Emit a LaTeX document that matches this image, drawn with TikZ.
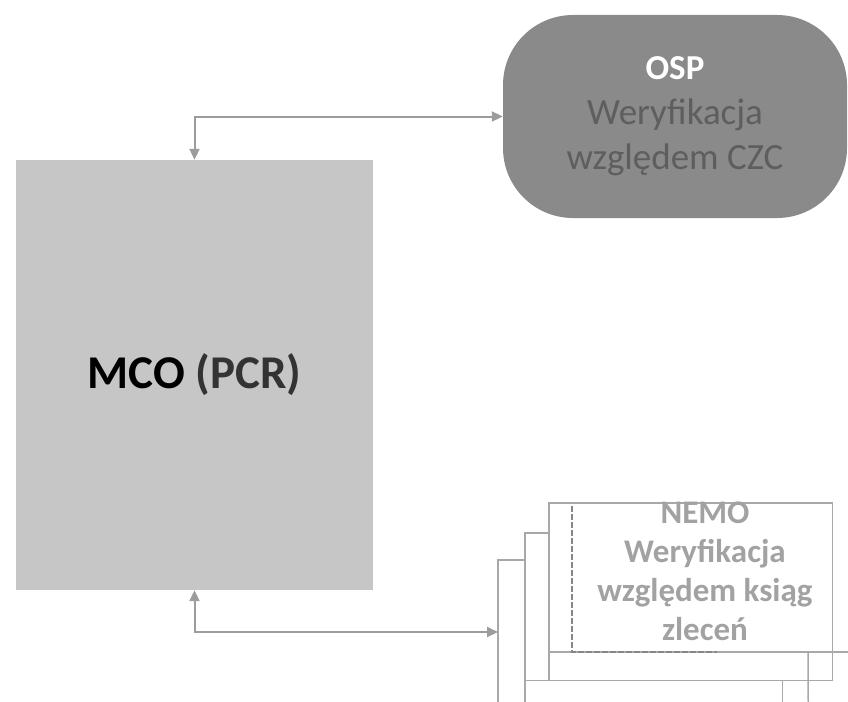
\documentclass[tikz,border=0pt]{standalone}
\usepackage{fontspec}
\setmainfont{Carlito}
\usetikzlibrary{arrows.meta}
\definecolor{mcofill}{HTML}{C6C6C6}
\definecolor{ospfill}{HTML}{8A8A8A}
\definecolor{osptext}{HTML}{5E5E5E}
\definecolor{conncol}{HTML}{9C9C9C}
\definecolor{stackcol}{HTML}{A8A8A8}
\definecolor{nemotext}{HTML}{A2A2A2}
\definecolor{pcrcol}{HTML}{333333}
\tikzset{
  conn/.style={draw=conncol, line width=2pt, {Triangle[length=11pt,width=10pt]}-{Triangle[length=11pt,width=10pt]}},
  mcobox/.style={draw=none, fill=mcofill, minimum width=357pt, minimum height=430pt, inner sep=0pt},
  ospbox/.style={draw=none, fill=ospfill, rounded corners=70pt, minimum width=344pt, minimum height=203pt, inner sep=0pt, align=center, text=osptext, font=\fontsize{37pt}{45pt}\selectfont},
  sheet/.style={draw=none, inner sep=0pt, anchor=north west},
  stackline/.style={draw=stackcol, line width=1.5pt},
  nemolabel/.style={align=center, text=nemotext, font=\fontsize{33pt}{39pt}\selectfont\bfseries, inner sep=0pt}
}
\begin{document}
\begin{tikzpicture}[x=1pt,y=-1pt]
\useasboundingbox (0,0) rectangle (848,701);
\begin{scope}
\clip (0,0) rectangle (848,701);
% MCO box
\node[mcobox] (mco) at (194.5,375) {\fontsize{47pt}{52pt}\selectfont\bfseries MCO \textcolor{pcrcol}{(PCR)}};
% OSP stadium
\node[ospbox] (osp) at (675,116.5) {{\bfseries\fontsize{35pt}{45pt}\selectfont\textcolor{white}{OSP}}\\Weryfikacja\\względem CZC};
% NEMO stacked sheets (outlines drawn as visible edges)
\node[sheet, minimum width=284pt, minimum height=200pt] (front) at (498,560) {};
\node[sheet, minimum width=283pt, minimum height=200pt] (middle) at (525,533) {};
\node[sheet, minimum width=283pt, minimum height=177pt] (back) at (549,503) {};
\draw[stackline] (front.south west) -- (front.north west) -- (middle.west |- front.north);
\draw[stackline] (front.south east) -- (front.east |- back.south);
\draw[stackline] (middle.south west) -- (middle.north west) -- (back.west |- middle.north);
\draw[stackline] (middle.south east) -- (808,652);
\draw[stackline] (back.south west) rectangle (back.north east);
\draw[stackline] (middle.west |- back.south) -- (back.south west);
\draw[stackline] (back.west |- 0,652) -- (848,652);
\draw[stackline, dash pattern=on 6pt off 2pt, draw=stackcol!80!black] (572,506) -- (572,652) -- (717,652);
\node[nemolabel] (nemo) at (705,571) {NEMO\\Weryfikacja\\względem ksiąg\\zleceń};
\coordinate (nemoin) at (498,632);
\end{scope}
% connectors
\draw[conn] (mco.north) |- (osp.west);
\draw[conn] (mco.south) |- (nemoin);
\end{tikzpicture}
\end{document}
